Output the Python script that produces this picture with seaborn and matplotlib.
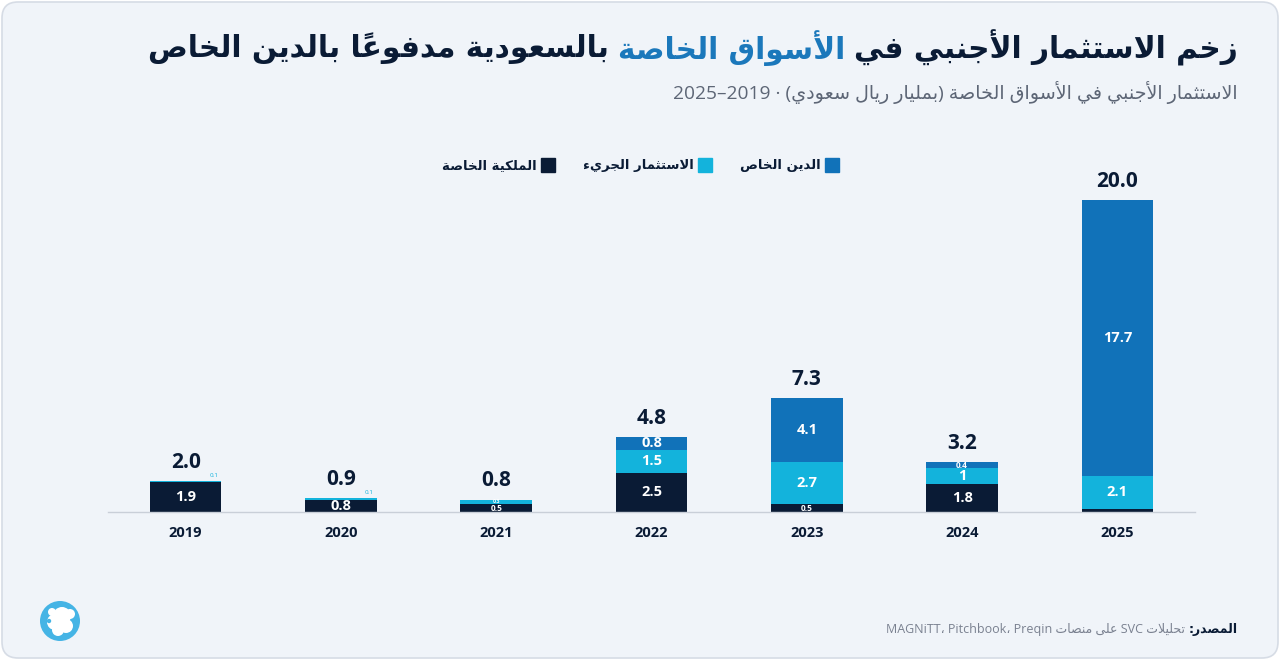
import re
import matplotlib
matplotlib.use("Agg")
import matplotlib.pyplot as plt
from matplotlib.patches import FancyBboxPatch, Circle
from matplotlib.lines import Line2D
from matplotlib.font_manager import FontProperties
import seaborn as sns
import numpy as np

# ---------------- data ----------------
years = ["2019", "2020", "2021", "2022", "2023", "2024", "2025"]
private_equity = [1.9, 0.8, 0.5, 2.5, 0.5, 1.8, 0.2]
venture_capital = [0.1, 0.1, 0.3, 1.5, 2.7, 1.0, 2.1]
private_debt = [0.0, 0.0, 0.0, 0.8, 4.1, 0.4, 17.7]
totals = [2.0, 0.9, 0.8, 4.8, 7.3, 3.2, 20.0]

title_parts = ["زخم الاستثمار الأجنبي في", "الأسواق الخاصة", "بالسعودية مدفوعاً بالدين الخاص"]
subtitle = "الاستثمار الأجنبي في الأسواق الخاصة (بمليار ريال سعودي) · 2019–2025"
legend_labels = ["الملكية الخاصة", "الاستثمار الجريء", "الدين الخاص"]
source_label = "المصدر:"
source_text = "تحليلات SVC على منصات"
source_latin = "MAGNiTT، Pitchbook، Preqin"

C_DARK = "#0a1b35"
C_CYAN = "#13b3dc"
C_BLUE = "#1172b9"
C_TITLE_BLUE = "#1b78bb"
C_GREY = "#5d6676"

# ---------------- Arabic shaping (visual order) ----------------
FORMS = {
    'ء': (0xFE80, None, None, None),
    'آ': (0xFE81, 0xFE82, None, None),
    'أ': (0xFE83, 0xFE84, None, None),
    'ؤ': (0xFE85, 0xFE86, None, None),
    'إ': (0xFE87, 0xFE88, None, None),
    'ئ': (0xFE89, 0xFE8A, 0xFE8B, 0xFE8C),
    'ا': (0xFE8D, 0xFE8E, None, None),
    'ب': (0xFE8F, 0xFE90, 0xFE91, 0xFE92),
    'ة': (0xFE93, 0xFE94, None, None),
    'ت': (0xFE95, 0xFE96, 0xFE97, 0xFE98),
    'ث': (0xFE99, 0xFE9A, 0xFE9B, 0xFE9C),
    'ج': (0xFE9D, 0xFE9E, 0xFE9F, 0xFEA0),
    'ح': (0xFEA1, 0xFEA2, 0xFEA3, 0xFEA4),
    'خ': (0xFEA5, 0xFEA6, 0xFEA7, 0xFEA8),
    'د': (0xFEA9, 0xFEAA, None, None),
    'ذ': (0xFEAB, 0xFEAC, None, None),
    'ر': (0xFEAD, 0xFEAE, None, None),
    'ز': (0xFEAF, 0xFEB0, None, None),
    'س': (0xFEB1, 0xFEB2, 0xFEB3, 0xFEB4),
    'ش': (0xFEB5, 0xFEB6, 0xFEB7, 0xFEB8),
    'ص': (0xFEB9, 0xFEBA, 0xFEBB, 0xFEBC),
    'ض': (0xFEBD, 0xFEBE, 0xFEBF, 0xFEC0),
    'ط': (0xFEC1, 0xFEC2, 0xFEC3, 0xFEC4),
    'ظ': (0xFEC5, 0xFEC6, 0xFEC7, 0xFEC8),
    'ع': (0xFEC9, 0xFECA, 0xFECB, 0xFECC),
    'غ': (0xFECD, 0xFECE, 0xFECF, 0xFED0),
    'ف': (0xFED1, 0xFED2, 0xFED3, 0xFED4),
    'ق': (0xFED5, 0xFED6, 0xFED7, 0xFED8),
    'ك': (0xFED9, 0xFEDA, 0xFEDB, 0xFEDC),
    'ل': (0xFEDD, 0xFEDE, 0xFEDF, 0xFEE0),
    'م': (0xFEE1, 0xFEE2, 0xFEE3, 0xFEE4),
    'ن': (0xFEE5, 0xFEE6, 0xFEE7, 0xFEE8),
    'ه': (0xFEE9, 0xFEEA, 0xFEEB, 0xFEEC),
    'و': (0xFEED, 0xFEEE, None, None),
    'ى': (0xFEEF, 0xFEF0, None, None),
    'ي': (0xFEF1, 0xFEF2, 0xFEF3, 0xFEF4),
}
LAMALEF = {'آ': (0xFEF5, 0xFEF6), 'أ': (0xFEF7, 0xFEF8),
           'إ': (0xFEF9, 0xFEFA), 'ا': (0xFEFB, 0xFEFC)}
MIRROR = {'(': ')', ')': '(', '[': ']', ']': '['}


def is_mark(c):
    return '\u064B' <= c <= '\u065F'


def shape(s):
    ch = list(s)
    n = len(ch)
    out = []

    def prev_letter(i):
        j = i - 1
        while j >= 0 and is_mark(ch[j]):
            j -= 1
        return ch[j] if j >= 0 else None

    def next_idx(i):
        j = i + 1
        while j < n and is_mark(ch[j]):
            j += 1
        return j

    i = 0
    while i < n:
        c = ch[i]
        if c not in FORMS:
            out.append(c)
            i += 1
            continue
        p = prev_letter(i)
        prev_joins = p in FORMS and FORMS[p][2] is not None
        j = next_idx(i)
        if c == 'ل' and j < n and ch[j] in LAMALEF:
            iso, fin = LAMALEF[ch[j]]
            out.append(chr(fin if prev_joins else iso))
            i = j + 1
            continue
        nx = ch[j] if j < n else None
        next_joins = nx in FORMS and FORMS[nx][1] is not None
        iso, fin, ini, med = FORMS[c]
        if prev_joins and next_joins and med:
            f = med
        elif prev_joins and fin:
            f = fin
        elif next_joins and ini:
            f = ini
        else:
            f = iso
        out.append(chr(f))
        i += 1
    return "".join(out)


def rev_rtl(s):
    groups = []
    for c in s:
        if is_mark(c) and groups:
            groups[-1] += c
        else:
            groups.append(c)
    return "".join(MIRROR.get(g, g) for g in reversed(groups))


def ar(s):
    s = shape(s)
    pat = r'([A-Za-z0-9]+(?:\.[A-Za-z0-9]+)*)'
    tokens = re.split(pat, s)
    out = []
    for t in reversed(tokens):
        if t and re.fullmatch(pat, t):
            out.append(t)
        else:
            out.append(rev_rtl(t))
    return "".join(out)


# ---------------- figure ----------------
sns.set_theme(style="white")
plt.rcParams['font.family'] = ['DejaVu Sans']

W, H = 1280, 660
fig = plt.figure(figsize=(12.8, 6.6), dpi=100, facecolor="white")

bg = fig.add_axes([0, 0, 1, 1], zorder=-5)
bg.set_xlim(0, W)
bg.set_ylim(H, 0)
bg.axis("off")
bg.add_patch(FancyBboxPatch((2, 2), W - 4, H - 4,
                            boxstyle="round,pad=0,rounding_size=16",
                            facecolor="#f0f4f9", edgecolor="#d6dce5", linewidth=1.2))
# logo
bg.add_patch(Circle((60, 621), 20, facecolor="#45b4e5", edgecolor="none"))
for (cx, cy, r) in [(62, 616, 9), (55, 622, 8), (66, 626, 7), (58, 630, 6), (70, 614, 5), (52, 612, 4)]:
    bg.add_patch(Circle((cx, cy), r, facecolor="white", edgecolor="none"))
bg.add_patch(Circle((49, 621), 2.2, facecolor="#45b4e5", edgecolor="none"))

ax = fig.add_axes([108 / W, 1 - 512 / H, 1087 / W, 362 / H])
ax.set_facecolor("none")

cum1 = np.array(private_equity)
cum2 = cum1 + np.array(venture_capital)
cum3 = cum2 + np.array(private_debt)

bw = 0.46
sns.barplot(x=years, y=cum3, color=C_BLUE, width=bw, saturation=1, linewidth=0, errorbar=None, ax=ax)
sns.barplot(x=years, y=cum2, color=C_CYAN, width=bw, saturation=1, linewidth=0, errorbar=None, ax=ax)
sns.barplot(x=years, y=cum1, color=C_DARK, width=bw, saturation=1, linewidth=0, errorbar=None, ax=ax)

ax.set_xlim(-0.5, len(years) - 0.5)
ax.set_ylim(0, 23.2)
ax.set_xlabel("")
ax.set_ylabel("")
ax.set_yticks([])
for s in ["top", "left", "right"]:
    ax.spines[s].set_visible(False)
ax.spines["bottom"].set_color("#c9cfd8")
ax.spines["bottom"].set_linewidth(1.0)
ax.tick_params(axis="x", length=0, pad=10)
for lab in ax.get_xticklabels():
    lab.set_fontfamily(["Open Sans", "DejaVu Sans"])
    lab.set_fontweight("bold")
    lab.set_fontsize(10.5)
    lab.set_color(C_DARK)

num_font = ["Open Sans", "DejaVu Sans"]

# segment labels
for i in range(len(years)):
    segs = [(0.0, private_equity[i]), (cum1[i], venture_capital[i]), (cum2[i], private_debt[i])]
    seg_colors = [C_DARK, C_CYAN, C_BLUE]
    for (b, v), col in zip(segs, seg_colors):
        if v <= 0:
            continue
        if v / totals[i] < 0.03:
            continue
        txt = f"{v:g}"
        if v < 0.15:
            ax.annotate(txt, (i + bw / 2 - 0.02, b + v), xytext=(0, 2), textcoords="offset points",
                        ha="right", va="bottom", fontsize=4.5, color=col, family=num_font)
            continue
        if v >= 0.8:
            fs = 10.5
        elif v >= 0.4:
            fs = 6
        else:
            fs = 3.8
        ax.text(i, b + v / 2, txt, ha="center", va="center", fontsize=fs,
                fontweight="bold", color="white", family=num_font)
    ax.annotate(f"{totals[i]:.1f}", (i, cum3[i]), xytext=(0, 13.5), textcoords="offset points",
                ha="center", va="center", fontsize=15, fontweight="bold", color=C_DARK, family=num_font)

# legend (RTL: marker to the right of the text)
leg_colors = [C_DARK, C_CYAN, C_BLUE]
handles = [Line2D([], [], marker="s", markersize=10, color=c, linestyle="none") for c in leg_colors]
fig.legend(handles, [ar(l) for l in legend_labels], loc="center", bbox_to_anchor=(0.5, 1 - 166 / H),
           ncol=3, frameon=False, markerfirst=False, handlelength=0.9, handletextpad=0.4,
           columnspacing=2.2, prop=FontProperties(family="DejaVu Sans", weight="bold", size=9.5),
           labelcolor=C_DARK)

# title (three coloured runs, placed right to left)
renderer = fig.canvas.get_renderer()
x_right = 1238 / W
ty = 1 - 48 / H
title_colors = [C_DARK, C_TITLE_BLUE, C_DARK]
space_px = 9
for part, col in zip(title_parts, title_colors):
    t = fig.text(x_right, ty, ar(part), ha="right", va="center", fontsize=21.3,
                 fontweight="bold", color=col, family="DejaVu Sans")
    bb = t.get_window_extent(renderer)
    x_right = (bb.x0 - space_px) / W

fig.text(1238 / W, 1 - 93 / H, ar(subtitle), ha="right", va="center", fontsize=13.8,
         color=C_GREY, family=["Open Sans", "DejaVu Sans"])

# source line
sl = fig.text(1238 / W, 1 - 630 / H, ar(source_label), ha="right", va="center", fontsize=9,
              fontweight="bold", color=C_DARK, family="DejaVu Sans")
bb = sl.get_window_extent(renderer)
fig.text((bb.x0 - 4) / W, 1 - 630 / H, source_latin + " " + ar(source_text), ha="right", va="center",
         fontsize=9, color="#7a8190", family=["Open Sans", "DejaVu Sans"])

fig.savefig("out.png", dpi=100, facecolor="white")
